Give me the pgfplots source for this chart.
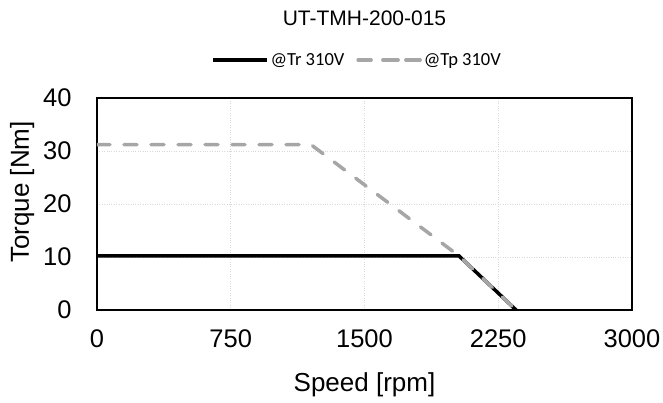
\documentclass[border=0pt]{standalone}
\usepackage{pgfplots}
\pgfplotsset{compat=1.18}
\usepackage{fontspec}
\setmainfont{Liberation Sans}
\newfontfamily\legfont{Carlito}
\definecolor{tpgray}{RGB}{166,166,166}
\pgfplotsset{
  tpleg/.style={legend image code/.code={%
    \draw[##1, dash pattern=on 6.5pt off 16.5pt] (1.75pt,0pt) -- (54.25pt,0pt);
    \path (0pt,0pt) -- (62pt,0pt);}}
}
\begin{document}
\begin{tikzpicture}
\begin{axis}[
  name=ax,
  scale only axis, width=535pt, height=212pt,
  xmin=0, xmax=3000, ymin=0, ymax=40,
  xtick={0,750,1500,2250,3000}, ytick={0,10,20,30,40},
  tick style={draw=none},
  grid=major, major grid style={black!15, dotted, line width=0.8pt},
  axis line style={line width=1.5pt, black},
  /pgf/number format/assume math mode=true,
  /pgf/number format/set thousands separator={},
  ticklabel style={font=\fontsize{25.5}{25.5}\selectfont},
  xticklabel style={yshift=-16pt},
  yticklabel style={xshift=-22pt},
  xlabel={Speed [rpm]}, ylabel={Torque [Nm]},
  label style={font=\fontsize{26}{26}\selectfont},
  xlabel style={at={(axis description cs:0.5,-0.352)}, anchor=center},
  ylabel style={at={(axis description cs:-0.14,0.557)}, anchor=center},
  every axis title shift=0pt,
  title={UT-TMH-200-015},
  title style={at={(axis description cs:0.5,1.377)}, anchor=center, font=\fontsize{21}{21}\selectfont},
  legend style={at={(axis description cs:0.486,1.18)}, anchor=center, draw=none, fill=none,
    legend columns=2, font=\legfont\fontsize{18.5}{18.5}\selectfont,
    /tikz/every even column/.append style={column sep=10pt}},
  legend image code/.code={\draw[#1] (0pt,0pt) -- (54pt,0pt);},
]
\addplot[black, line width=3.5pt] coordinates {(0,10.2) (2030,10.2) (2350,0)};
\addlegendentry{@Tr 310V}
\addplot[tpgray, line width=3.5pt, line cap=round, dash pattern=on 13pt off 14pt, tpleg]
  coordinates {(0,31.2) (1200,31.2) (2030,10.2) (2350,0)};
\addlegendentry{@Tp 310V}
\end{axis}
\pgfresetboundingbox
\path ([xshift=-97pt,yshift=-93pt]ax.south west) rectangle ([xshift=31pt,yshift=98pt]ax.north east);
\end{tikzpicture}
\end{document}
